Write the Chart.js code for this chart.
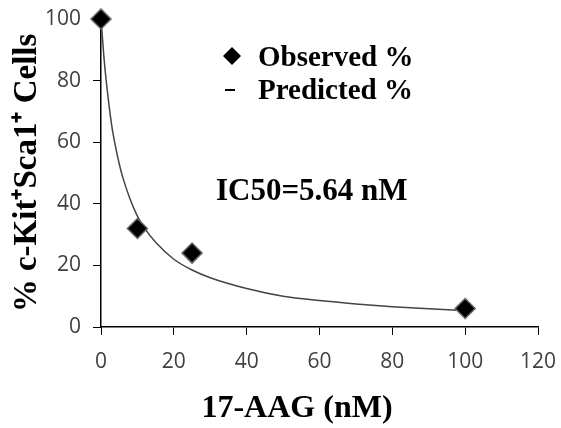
<!DOCTYPE html>
<html>
<head>
<meta charset="utf-8">
<script src="https://cdn.jsdelivr.net/npm/chart.js@4"></script>
<style>
  html, body { margin: 0; padding: 0; background: #fff; }
  #wrap { width: 561px; height: 428px; }
</style>
</head>
<body>
<div id="wrap"><canvas id="chart" width="561" height="428"></canvas></div>
<script>
'use strict';

// observed points
const obsX = [0, 10, 25, 100];
const obsY = [100, 32, 24, 6];

// predicted curve
const predX = [0, 1, 2, 3, 4, 5, 6, 8, 10, 12, 15, 20, 25, 30, 40, 50, 60, 70, 80, 90, 100];
const predY = [100, 85, 74, 65, 58.5, 53, 48.5, 41.5, 36, 32, 27.5, 22, 18.5, 16, 12.5, 10, 8.6, 7.5, 6.6, 5.9, 5.3];

const xTicks = [0, 20, 40, 60, 80, 100, 120];
const yTicks = [0, 20, 40, 60, 80, 100];

const legendLabels = ['Observed %', 'Predicted %'];
const ic50Label = 'IC50=5.64 nM';
const xTitle = '17-AAG (nM)';

const serif = '"Liberation Serif", "Times New Roman", serif';
const sans = '"Open Sans", "Liberation Sans", sans-serif';

function toPoints(xs, ys) {
  const pts = [];
  for (let i = 0; i < xs.length; i++) {
    pts.push({ x: xs[i], y: ys[i] });
  }
  return pts;
}

// legend, IC50 note and x title (the title sits left of the plot centre)
const notes = {
  id: 'notes',
  afterDatasetsDraw(chart) {
    const ctx = chart.ctx;
    ctx.save();
    ctx.fillStyle = '#000';
    ctx.textBaseline = 'middle';
    ctx.font = 'bold 29px ' + serif;
    ctx.beginPath();
    ctx.moveTo(232, 47);
    ctx.lineTo(241, 56);
    ctx.lineTo(232, 65);
    ctx.lineTo(223, 56);
    ctx.closePath();
    ctx.fill();
    ctx.fillText(legendLabels[0], 258, 59);
    ctx.fillRect(225, 89, 10, 2);
    ctx.fillText(legendLabels[1], 258, 92);
    ctx.font = 'bold 31px ' + serif;
    ctx.fillText(ic50Label, 216, 192);
    ctx.font = 'bold 32px ' + serif;
    ctx.textAlign = 'center';
    ctx.fillText(xTitle, 297, 409);
    ctx.restore();
  }
};

new Chart(document.getElementById('chart'), {
  type: 'scatter',
  data: {
    datasets: [
      {
        label: legendLabels[1],
        type: 'line',
        data: toPoints(predX, predY),
        borderColor: '#444',
        borderWidth: 1.5,
        pointRadius: 0,
        cubicInterpolationMode: 'monotone',
        fill: false,
        clip: false,
        order: 2,
      },
      {
        label: legendLabels[0],
        data: toPoints(obsX, obsY),
        pointStyle: 'rectRot',
        pointRadius: 10,
        backgroundColor: '#000',
        borderColor: '#666',
        borderWidth: 1.5,
        clip: false,
        order: 1,
      },
    ],
  },
  options: {
    responsive: false,
    animation: false,
    layout: { padding: { left: 0, right: 23, top: 19, bottom: 0 } },
    plugins: { legend: { display: false }, tooltip: { enabled: false } },
    scales: {
      x: {
        type: 'linear',
        min: 0,
        max: 120,
        afterBuildTicks: (s) => { s.ticks = xTicks.map(v => ({ value: v })); },
        afterFit: (s) => { s.height = 101; s.paddingLeft = 0; s.paddingRight = 0; },
        grid: { drawOnChartArea: false, drawTicks: true, tickLength: 8, color: '#000' },
        border: { color: '#000', width: 1.5 },
        ticks: { color: '#404040', font: { family: sans, size: 21 }, padding: 14, maxRotation: 0 },
      },
      y: {
        min: 0,
        max: 100,
        afterBuildTicks: (s) => { s.ticks = yTicks.map(v => ({ value: v })); },
        afterFit: (s) => { s.width = 101; s.paddingTop = 0; s.paddingBottom = 0; },
        grid: { drawOnChartArea: false, drawTicks: true, tickLength: 8, color: '#000' },
        border: { color: '#000', width: 1.5 },
        ticks: { color: '#404040', font: { family: sans, size: 21 }, padding: 12 },
        title: {
          display: true,
          text: '% c-Kit\u207ASca1\u207A Cells',
          color: '#000',
          font: { family: serif, size: 33, weight: 'bold' },
          padding: { top: 8, bottom: 0 },
        },
      },
    },
  },
  plugins: [notes],
});
</script>
</body>
</html>
